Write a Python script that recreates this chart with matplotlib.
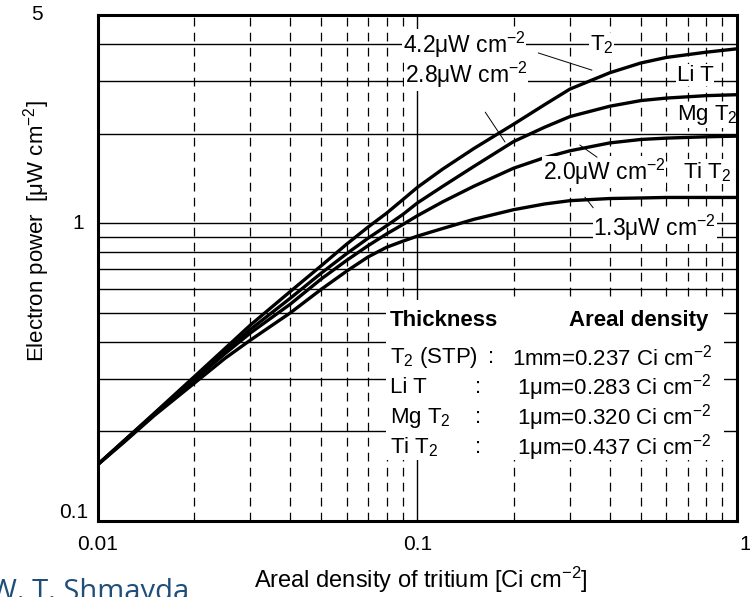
import numpy as np
import matplotlib
matplotlib.use("Agg")
import matplotlib.pyplot as plt
from matplotlib.ticker import LogLocator, NullFormatter, FixedLocator
from matplotlib.patches import Rectangle

plt.rcParams['font.family'] = ['Liberation Sans', 'DejaVu Sans']
plt.rcParams['mathtext.fontset'] = 'custom'
plt.rcParams['mathtext.rm'] = 'Liberation Sans'
plt.rcParams['mathtext.it'] = 'Liberation Sans'
plt.rcParams['mathtext.bf'] = 'Liberation Sans:bold'

# === data
areal_density = [0.01, 0.012, 0.015, 0.02, 0.025, 0.03, 0.04, 0.05, 0.06,
                 0.07, 0.08, 0.09, 0.1, 0.12, 0.15, 0.2, 0.25, 0.3, 0.4,
                 0.5, 0.6, 0.8, 1.0]
power_t2 = [0.155, 0.185, 0.23, 0.305, 0.38, 0.455, 0.59, 0.72, 0.85,
            0.97, 1.08, 1.2, 1.32, 1.52, 1.78, 2.15, 2.5, 2.82, 3.2,
            3.45, 3.6, 3.75, 3.85]
power_lit = [0.155, 0.185, 0.229, 0.30, 0.372, 0.44, 0.56, 0.68, 0.79,
             0.89, 0.98, 1.07, 1.17, 1.33, 1.55, 1.88, 2.1, 2.28, 2.47,
             2.58, 2.63, 2.68, 2.7]
power_mgt2 = [0.155, 0.184, 0.228, 0.297, 0.365, 0.428, 0.535, 0.65, 0.75,
              0.84, 0.92, 0.99, 1.06, 1.18, 1.33, 1.53, 1.66, 1.75, 1.86,
              1.91, 1.93, 1.95, 1.96]
power_tit2 = [0.155, 0.183, 0.226, 0.29, 0.352, 0.405, 0.50, 0.60, 0.69,
              0.77, 0.83, 0.87, 0.905, 0.96, 1.03, 1.11, 1.16, 1.19, 1.21,
              1.215, 1.22, 1.22, 1.22]

curves = [power_t2, power_lit, power_mgt2, power_tit2]

x_ticks = [0.01, 0.1, 1]
x_tick_labels = ['0.01', '0.1', '1']
y_ticks = [0.1, 1, 5]
y_tick_labels = ['0.1', '1', '5']

saturation_labels = ['4.2\u03bcW cm$^{-2}$', '2.8\u03bcW cm$^{-2}$',
                     '2.0\u03bcW cm$^{-2}$', '1.3\u03bcW cm$^{-2}$']
material_labels = ['T$_2$', 'Li T', 'Mg T$_2$', 'Ti T$_2$']

table_materials = ['T$_2$ (STP)', 'Li T', 'Mg T$_2$', 'Ti T$_2$']
table_values = ['1mm=0.237 Ci cm$^{-2}$', '1\u03bcm=0.283 Ci cm$^{-2}$',
                '1\u03bcm=0.320 Ci cm$^{-2}$', '1\u03bcm=0.437 Ci cm$^{-2}$']

FS = 16

fig = plt.figure(figsize=(7.5, 5.97), dpi=100)
ax = fig.add_axes([98 / 750, 1 - 521 / 597, 639 / 750, 506 / 597])
ax.set_xscale('log')
ax.set_yscale('log')
ax.set_xlim(0.01, 1)
ax.set_ylim(0.1, 5)

# === grid: dashed verticals, solid horizontals
ax.xaxis.set_major_locator(FixedLocator(x_ticks))
ax.yaxis.set_major_locator(FixedLocator(y_ticks))
ax.xaxis.set_minor_locator(LogLocator(base=10, subs=np.arange(2, 10)))
ax.yaxis.set_minor_locator(LogLocator(base=10, subs=np.arange(2, 10)))
for axis in (ax.xaxis, ax.yaxis):
    axis.set_major_formatter(NullFormatter())
    axis.set_minor_formatter(NullFormatter())
ax.tick_params(which='both', length=0)
ax.xaxis.grid(True, which='major', color='black', lw=1.0, ls='-')
ax.xaxis.grid(True, which='minor', color='black', lw=0.9, ls=(0, (7, 5)))
ax.yaxis.grid(True, which='both', color='black', lw=1.0, ls='-')

for s in ax.spines.values():
    s.set_color('black')
    s.set_linewidth(2.2)
    s.set_zorder(6)

for yv in curves:
    ax.plot(areal_density, yv, color='black', lw=2.4, solid_joinstyle='round',
            solid_capstyle='butt', zorder=3)

# === tick labels placed like the scan
for v, lab in zip(x_ticks, x_tick_labels):
    dx = 8 if v == 1 else 0
    ax.annotate(lab, xy=(v, 0), xycoords=('data', 'axes fraction'),
                xytext=(dx, -24), textcoords='offset pixels',
                ha='center', va='center', fontsize=15)
for v, lab in zip(y_ticks, y_tick_labels):
    dx, dy = {0.1: (-10, 9), 1: (-14, 0), 5: (-55, 0)}[v]
    ax.annotate(lab, xy=(0, v), xycoords=('axes fraction', 'data'),
                xytext=(dx, dy), textcoords='offset pixels',
                ha='right', va='center', fontsize=15)

# === curve labels with white background
bb = dict(facecolor='white', edgecolor='none', pad=0.5)
sat_pos = [(0.477, 0.941), (0.480, 0.881), (0.696, 0.690), (0.775, 0.579)]
mat_pos = [(0.770, 0.941), (0.906, 0.881), (0.906, 0.802), (0.915, 0.690)]
for lab, (px, py) in zip(saturation_labels, sat_pos):
    ax.text(px, py, lab, transform=ax.transAxes, ha='left', va='center',
            fontsize=16.5, bbox=bb, zorder=4)
for lab, (px, py) in zip(material_labels, mat_pos):
    ax.text(px, py, lab, transform=ax.transAxes, ha='left', va='center',
            fontsize=FS, bbox=bb, zorder=4)

leaders = [((0.689, 0.925), (0.773, 0.891)),
           ((0.606, 0.808), (0.637, 0.749)),
           ((0.754, 0.743), (0.781, 0.719)),
           ((0.762, 0.640), (0.775, 0.619))]
for p0, p1 in leaders:
    ax.annotate('', xy=p1, xytext=p0, xycoords='axes fraction',
                textcoords='axes fraction',
                arrowprops=dict(arrowstyle='-', lw=0.7, color='black',
                                shrinkA=0, shrinkB=0), zorder=4)

# === thickness / areal density table
ax.add_patch(Rectangle((0.451, 0.121), 0.529, 0.316, transform=ax.transAxes,
                       facecolor='white', edgecolor='none', zorder=2))
ax.text(0.457, 0.397, 'Thickness', transform=ax.transAxes, ha='left',
        va='center', fontsize=FS, fontweight='bold', zorder=4)
ax.text(0.955, 0.397, 'Areal density', transform=ax.transAxes, ha='right',
        va='center', fontsize=FS, fontweight='bold', zorder=4)
row_y = [0.324, 0.263, 0.204, 0.146]
colon_x = [0.610, 0.590, 0.590, 0.590]
for mat, val, ry, cx in zip(table_materials, table_values, row_y, colon_x):
    ax.text(0.457, ry, mat, transform=ax.transAxes, ha='left', va='center',
            fontsize=FS, zorder=4)
    ax.text(cx, ry, ':', transform=ax.transAxes, ha='left', va='center',
            fontsize=FS, zorder=4)
    ax.text(0.961, ry, val, transform=ax.transAxes, ha='right', va='center',
            fontsize=FS, zorder=4)

fig.text(37 / 750, 1 - 231 / 597, 'Electron power  [\u03bcW cm$^{-2}$]',
         rotation=90, ha='center', va='center', fontsize=FS)
fig.text(421 / 750, 1 - 580 / 597, 'Areal density of tritium [Ci cm$^{-2}$]',
         ha='center', va='center', fontsize=17)

fig.text(-10 / 750, -0.005, 'W. T. Shmayda', ha='left', va='baseline',
         fontsize=21, color='#1f4e79', family=['Open Sans', 'DejaVu Sans'])

fig.savefig('out.png', dpi=100)
